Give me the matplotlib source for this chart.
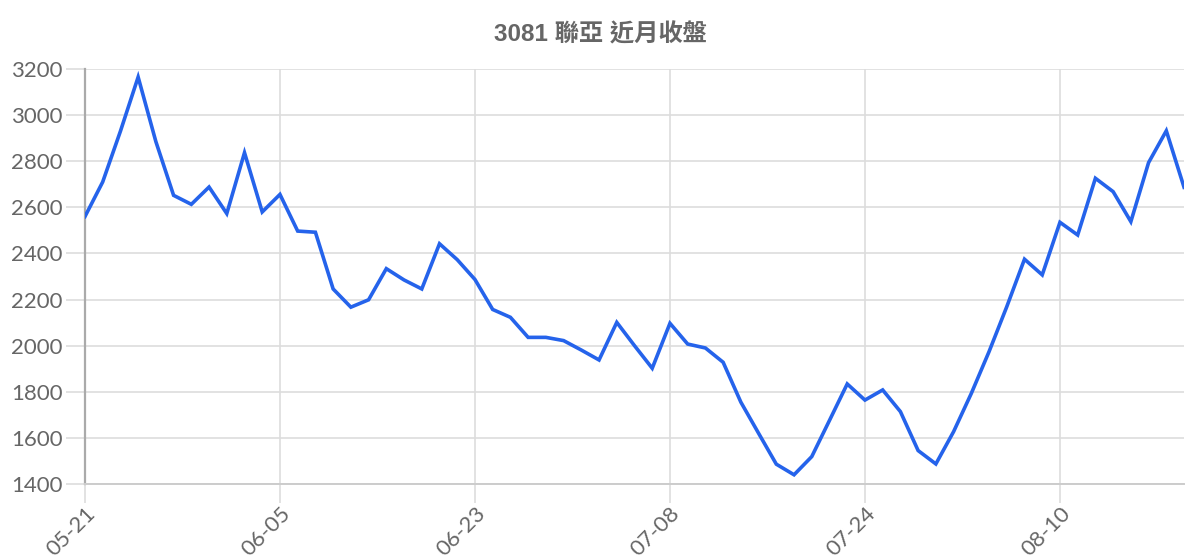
import matplotlib
matplotlib.use("Agg")
import matplotlib.pyplot as plt

# closing prices, one per trading day
closes = [
    2560, 2710, 2930, 3165, 2885, 2652, 2613, 2688, 2573, 2837,
    2580, 2656, 2497, 2492, 2246, 2167, 2199, 2334, 2285, 2246,
    2442, 2373, 2287, 2157, 2123, 2036, 2036, 2022, 1981, 1938,
    2101, 2000, 1902, 2097, 2007, 1990, 1928, 1755, 1620, 1486,
    1440, 1519, 1676, 1834, 1764, 1808, 1714, 1545, 1487, 1627,
    1793, 1974, 2169, 2375, 2307, 2535, 2480, 2726, 2668, 2538,
    2794, 2932, 2687,
]
tick_labels = ["05-21", "06-05", "06-23", "07-08", "07-24", "08-10"]
tick_step = 11
y_ticks = [1400, 1600, 1800, 2000, 2200, 2400, 2600, 2800, 3000, 3200]

title = "3081 聯亞 近月收盤"

fig = plt.figure(figsize=(12, 5.6), dpi=100)
ax = fig.add_axes([0.0708, 0.1357, 0.9159, 0.7411])

x = list(range(len(closes)))
ax.plot(x, closes, color="#2563eb", linewidth=2.6, solid_joinstyle="miter", zorder=3)

ax.set_xlim(0, len(closes) - 1)
ax.set_ylim(y_ticks[0], y_ticks[-1])
ax.set_yticks(y_ticks)
ax.set_xticks(range(0, len(closes), tick_step))
ax.set_xticklabels(tick_labels, rotation=45, ha="right", rotation_mode="anchor")

ax.grid(True, color="#dddddd", linewidth=1.2, zorder=0)
for s in ["top", "right"]:
    ax.spines[s].set_visible(False)
ax.spines["left"].set_color("#aaaaaa")
ax.spines["left"].set_linewidth(1.6)
ax.spines["bottom"].set_color("#cccccc")
ax.spines["bottom"].set_linewidth(1.4)

ax.tick_params(axis="both", length=14, width=1.2, color="#dddddd",
               labelcolor="#666666", labelsize=16)
ax.tick_params(axis="y", pad=2)
ax.tick_params(axis="x", pad=0)
for lbl in ax.get_xticklabels() + ax.get_yticklabels():
    lbl.set_family(["Lato", "DejaVu Sans"])

fig.text(0.5, 0.937, title, ha="center", va="center", fontsize=17.5,
         fontweight="bold", color="#666666",
         family=["Liberation Sans", "Noto Sans CJK TC", "DejaVu Sans"])

fig.savefig("out.png", dpi=100)
